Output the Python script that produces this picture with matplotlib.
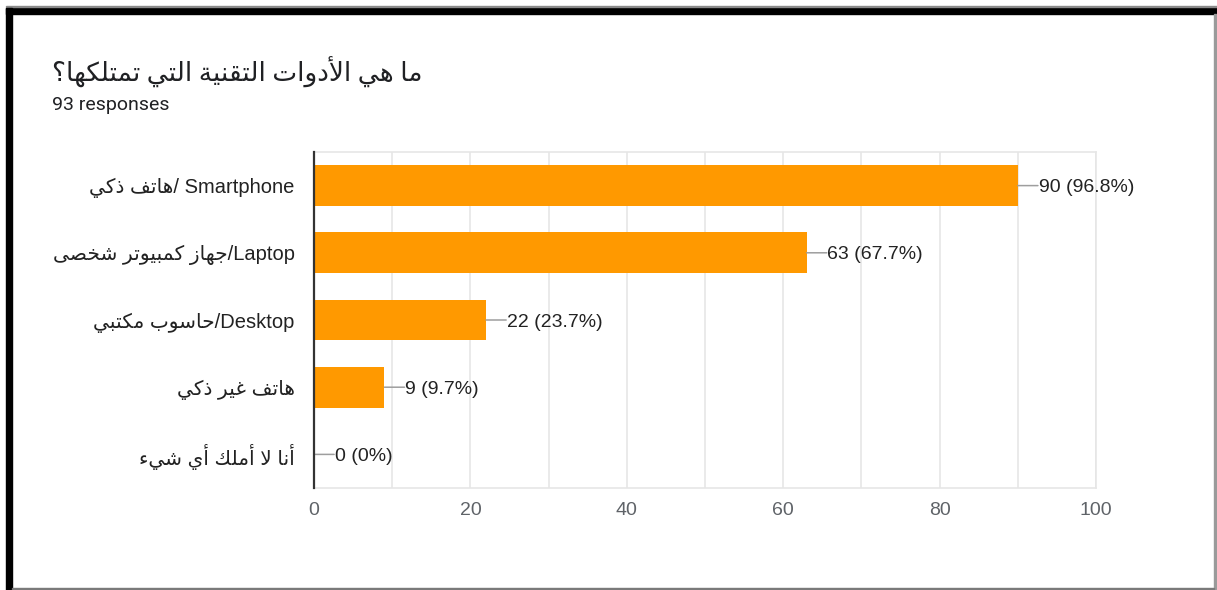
import matplotlib
matplotlib.use('Agg')
import matplotlib.pyplot as plt
from matplotlib.patches import Rectangle

plt.rcParams['font.family'] = ['Roboto', 'DejaVu Sans']
CHART_FONT = ['Liberation Sans', 'DejaVu Sans']

# Arabic letter forms: isolated, final, initial, medial
FORMS = {
    'ء': ('\uFE80', None, None, None),
    'آ': ('\uFE81', '\uFE82', None, None),
    'أ': ('\uFE83', '\uFE84', None, None),
    'ا': ('\uFE8D', '\uFE8E', None, None),
    'ب': ('\uFE8F', '\uFE90', '\uFE91', '\uFE92'),
    'ة': ('\uFE93', '\uFE94', None, None),
    'ت': ('\uFE95', '\uFE96', '\uFE97', '\uFE98'),
    'ج': ('\uFE9D', '\uFE9E', '\uFE9F', '\uFEA0'),
    'ح': ('\uFEA1', '\uFEA2', '\uFEA3', '\uFEA4'),
    'خ': ('\uFEA5', '\uFEA6', '\uFEA7', '\uFEA8'),
    'د': ('\uFEA9', '\uFEAA', None, None),
    'ذ': ('\uFEAB', '\uFEAC', None, None),
    'ر': ('\uFEAD', '\uFEAE', None, None),
    'ز': ('\uFEAF', '\uFEB0', None, None),
    'س': ('\uFEB1', '\uFEB2', '\uFEB3', '\uFEB4'),
    'ش': ('\uFEB5', '\uFEB6', '\uFEB7', '\uFEB8'),
    'ص': ('\uFEB9', '\uFEBA', '\uFEBB', '\uFEBC'),
    'غ': ('\uFECD', '\uFECE', '\uFECF', '\uFED0'),
    'ف': ('\uFED1', '\uFED2', '\uFED3', '\uFED4'),
    'ق': ('\uFED5', '\uFED6', '\uFED7', '\uFED8'),
    'ك': ('\uFED9', '\uFEDA', '\uFEDB', '\uFEDC'),
    'ل': ('\uFEDD', '\uFEDE', '\uFEDF', '\uFEE0'),
    'م': ('\uFEE1', '\uFEE2', '\uFEE3', '\uFEE4'),
    'ن': ('\uFEE5', '\uFEE6', '\uFEE7', '\uFEE8'),
    'ه': ('\uFEE9', '\uFEEA', '\uFEEB', '\uFEEC'),
    'و': ('\uFEED', '\uFEEE', None, None),
    'ى': ('\uFEEF', '\uFEF0', None, None),
    'ي': ('\uFEF1', '\uFEF2', '\uFEF3', '\uFEF4'),
}
LAM_ALEF = {
    'ا': ('\uFEFB', '\uFEFC', None, None),
    'أ': ('\uFEF7', '\uFEF8', None, None),
    'آ': ('\uFEF5', '\uFEF6', None, None),
}


def ar(text):
    """shape arabic letters and return them in visual (left to right) order"""
    toks = []
    i = 0
    while i < len(text):
        c = text[i]
        if c == 'ل' and i + 1 < len(text) and text[i + 1] in LAM_ALEF:
            toks.append(LAM_ALEF[text[i + 1]])
            i += 2
        else:
            toks.append(FORMS.get(c, c))
            i += 1
    out = []
    for k, t in enumerate(toks):
        if isinstance(t, str):
            out.append(t)
            continue
        prev_ok = (k > 0 and not isinstance(toks[k - 1], str)
                   and toks[k - 1][2] is not None and t[1] is not None)
        next_ok = (t[2] is not None and k + 1 < len(toks)
                   and not isinstance(toks[k + 1], str) and toks[k + 1][1] is not None)
        if prev_ok and next_ok:
            out.append(t[3])
        elif prev_ok:
            out.append(t[1])
        elif next_ok:
            out.append(t[2])
        else:
            out.append(t[0])
    return ''.join(out)[::-1]


title = 'ما هي الأدوات التقنية التي تمتلكها؟'
n_responses = 93
labels = [
    ar('هاتف ذكي') + '/ Smartphone',
    ar('جهاز كمبيوتر شخصى') + '/Laptop',
    ar('حاسوب مكتبي') + '/Desktop',
    ar('هاتف غير ذكي'),
    ar('أنا لا أملك أي شيء'),
]
counts = [90, 63, 22, 9, 0]
percents = ['96.8%', '67.7%', '23.7%', '9.7%', '0%']

W, H = 1217, 590
fig = plt.figure(figsize=(W / 100, H / 100), dpi=100)


def px(x, y):
    return x / W, 1 - y / H


# screenshot frame
fig.patches.append(Rectangle(px(6, 14), 1, 6 / H, transform=fig.transFigure, color='black', zorder=0))
fig.patches.append(Rectangle(px(6, 7), 1, 1 / H, transform=fig.transFigure, color='#8a8a8a', zorder=0))
fig.patches.append(Rectangle(px(6, 590), 6 / W, (590 - 8) / H, transform=fig.transFigure, color='black', zorder=0))
fig.patches.append(Rectangle(px(1214, 589), 1.5 / W, (589 - 14) / H, transform=fig.transFigure, color='#9a9a9a', zorder=0))
fig.patches.append(Rectangle(px(12, 589), (1214 - 12) / W, 1.5 / H, transform=fig.transFigure, color='#7a7a7a', zorder=0))

fig.text(*px(52, 72), ar(title), fontsize=19, color='#202124', va='center', ha='left')
fig.text(*px(52, 105), f'{n_responses} responses', fontsize=14, color='#202124', va='center', ha='left')

l, t = px(314, 152)
r, b = px(1096, 488)
ax = fig.add_axes([l, b, r - l, t - b])

y = range(len(labels))
ax.barh(y, counts, height=0.61, color='#ff9900', zorder=3)
for i, (c, p) in enumerate(zip(counts, percents)):
    # short leader line from the bar end, then the value label
    ax.annotate('', xy=(c, i), xytext=(14.5, 0), textcoords='offset points',
                arrowprops=dict(arrowstyle='-', color='#9e9e9e', lw=1.1, shrinkA=0, shrinkB=0))
    ax.annotate(f'{c} ({p})', xy=(c, i), xytext=(15, -1.5), textcoords='offset points',
                va='center', ha='left', fontsize=14, color='#222222', zorder=4,
                family=CHART_FONT)

ax.set_xlim(0, 100)
ax.set_ylim(4.5, -0.5)
ax.set_xticks(range(0, 101, 20))
ax.set_xticks(range(0, 101, 10), minor=True)
ax.grid(axis='x', which='both', color='#e6e6e6', lw=1.2, zorder=0)
ax.set_yticks(list(y))
ax.set_yticklabels(labels, family=CHART_FONT)
for lab in ax.get_xticklabels():
    lab.set_family(CHART_FONT)
ax.tick_params(axis='y', length=0, pad=14, labelsize=14.5, labelcolor='#222222')
ax.tick_params(axis='x', which='both', length=0, pad=10, labelsize=14, labelcolor='#5f6368')

for side in ['top', 'right', 'bottom']:
    ax.spines[side].set_color('#e6e6e6')
    ax.spines[side].set_linewidth(1.2)
ax.spines['left'].set_color('#333333')
ax.spines['left'].set_linewidth(1.6)
ax.spines['left'].set_zorder(5)

fig.savefig('out.png', dpi=100)
